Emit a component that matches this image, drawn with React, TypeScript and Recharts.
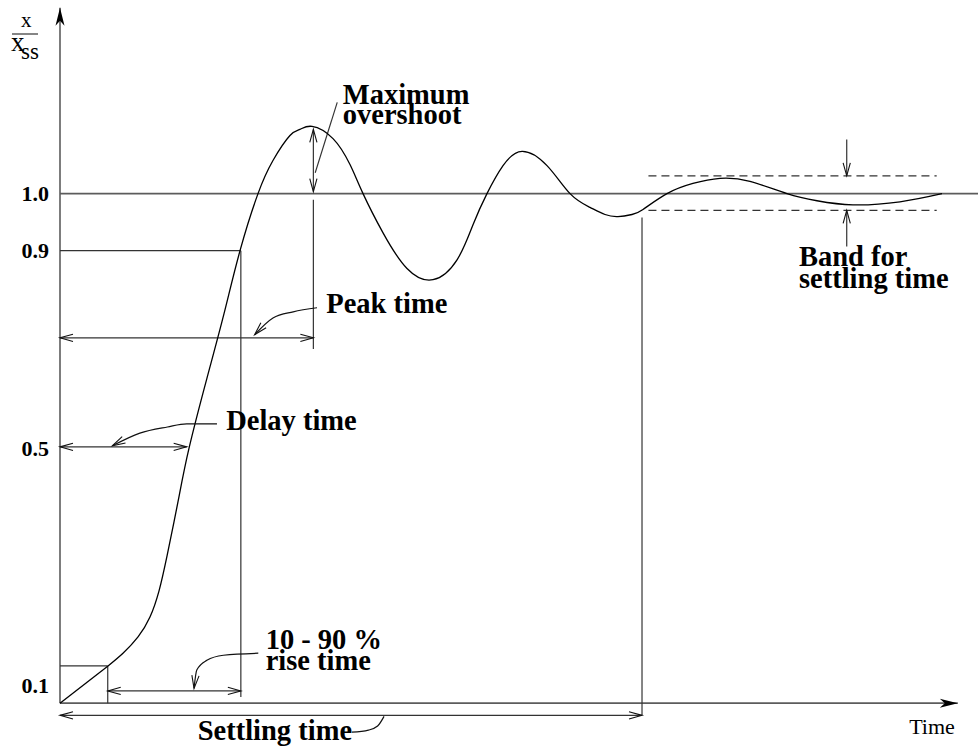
import { ComposedChart, Line, ReferenceDot, ReferenceLine, XAxis, YAxis } from "recharts";

// Schematic step response. Time runs 0..10, the response is x / x_ss (1.0 = steady state).
// The figure is not drawn to scale, so the tick labels sit where the original puts them.

const startT = [0, 0.523];
const startV = [0, 0.073];

const curveT = [0.523, 0.686, 0.85, 0.98, 1.078, 1.166, 1.285, 1.405, 1.601, 1.786, 1.961, 2.157, 2.32, 2.505, 2.614, 2.745, 2.974, 3.159, 3.301, 3.519, 3.78, 4.063, 4.325, 4.499, 4.651, 4.826, 5.033, 5.305, 5.556, 5.773, 5.937, 6.078, 6.231, 6.351, 6.612, 6.895, 7.19, 7.516, 7.919, 8.246, 8.638, 9.15, 9.608];
const curveV = [0.073, 0.098, 0.13, 0.169, 0.22, 0.289, 0.395, 0.5, 0.638, 0.764, 0.888, 1.0, 1.065, 1.114, 1.126, 1.132, 1.108, 1.057, 1.0, 0.923, 0.853, 0.831, 0.87, 0.939, 1.0, 1.055, 1.083, 1.055, 1.0, 0.973, 0.959, 0.955, 0.959, 0.969, 1.0, 1.02, 1.03, 1.024, 1.0, 0.986, 0.978, 0.984, 1.0];

const yTicks = [0.035, 0.5, 0.888, 1.0];
const yTickLabels = ["0.1", "0.5", "0.9", "1.0"];

// segments: [t1, v1, t2, v2]
const axisX = [0, 0, 9.78, 0];
const axisY = [0, 0, 0, 1.365];
const steadyLine = [0, 1, 10, 1];
const guides = [
  [0, 0.888, 1.97, 0.888],
  [1.97, 0.888, 1.97, 0.012],
  [0, 0.073, 0.52, 0.073],
  [0.52, 0.073, 0.52, 0],
  [2.76, 0.988, 2.76, 0.695],
  [6.34, 0.953, 6.34, -0.024],
  [3.02, 1.179, 2.78, 1.041],
];
const intervals = [
  [0, 0.503, 1.38, 0.503], // delay time
  [0, 0.717, 2.76, 0.717], // peak time
  [0.52, 0.024, 1.97, 0.024], // rise time
  [0, -0.024, 6.34, -0.024], // settling time
  [2.76, 1.126, 2.76, 1.004], // maximum overshoot
];
const bandLines = [
  [6.41, 1.035, 9.55, 1.035],
  [6.41, 0.967, 9.55, 0.967],
];
const bandArrows = [
  [8.57, 1.106, 8.57, 1.035],
  [8.57, 0.896, 8.57, 0.967],
];

const delayLeaderT = [0.57, 0.87, 1.17, 1.38, 1.71];
const delayLeaderV = [0.505, 0.53, 0.542, 0.548, 0.548];
const peakLeaderT = [2.12, 2.32, 2.54, 2.8];
const peakLeaderV = [0.723, 0.756, 0.768, 0.776];
const riseLeaderT = [1.46, 1.49, 1.6, 1.78, 2.16];
const riseLeaderV = [0.029, 0.065, 0.084, 0.094, 0.098];
const settleLeaderT = [3.18, 3.36, 3.46, 3.53];
const settleLeaderV = [-0.057, -0.053, -0.045, -0.026];

const notes = [
  { t: 3.08, v: 1.175, lines: ["Maximum", "overshoot"], gap: 20 },
  { t: 2.9, v: 0.766, lines: ["Peak time"], gap: 21 },
  { t: 1.81, v: 0.536, lines: ["Delay time"], gap: 21 },
  { t: 2.24, v: 0.106, lines: ["10 - 90 %", "rise time"], gap: 21 },
  { t: 1.5, v: -0.073, lines: ["Settling time"], gap: 21 },
  { t: 8.05, v: 0.857, lines: ["Band for", "settling time"], gap: 22 },
];
const timeLabel = { t: 9.25, v: -0.061, text: "Time" };

const serif = '"Liberation Serif", "Times New Roman", serif';
const ink = "#111";
const grey = "#5c5c5c";

const toData = (ts: number[], vs: number[]) => ts.map((t, i) => ({ t, v: vs[i] }));
const seg = (s: number[]) => [
  { x: s[0], y: s[1] },
  { x: s[2], y: s[3] },
];

function NoteLabel(props: any) {
  const { viewBox, lines, size = 28.5, lineGap = 21, weight = "bold" } = props;
  if (!viewBox) return null;
  return (
    <text x={viewBox.x} y={viewBox.y} fontFamily={serif} fontSize={size} fontWeight={weight} fill="#000">
      {lines.map((s: string, i: number) => (
        <tspan key={i} x={viewBox.x} dy={i === 0 ? 0 : lineGap}>
          {s}
        </tspan>
      ))}
    </text>
  );
}

function RatioLabel(props: any) {
  const vb = props.viewBox || { x: 0, y: 0 };
  const x0 = vb.x;
  const y0 = vb.y;
  return (
    <g fontFamily={serif} fill="#000">
      <text x={x0 + 21} y={y0 + 27} fontSize={21}>x</text>
      <line x1={x0 + 12} y1={y0 + 34} x2={x0 + 38} y2={y0 + 34} stroke={grey} strokeWidth={1.5} />
      <text x={x0 + 11} y={y0 + 51} fontSize={27}>x</text>
      <text x={x0 + 21} y={y0 + 59} fontSize={23}>ss</text>
    </g>
  );
}

const segLine = (marker: { start?: string; end?: string }, color: string, width: number, dash?: string) =>
  (p: any) => (
    <line
      x1={p.x1}
      y1={p.y1}
      x2={p.x2}
      y2={p.y2}
      stroke={color}
      strokeWidth={width}
      strokeDasharray={dash}
      markerStart={marker.start}
      markerEnd={marker.end}
    />
  );

export default function App() {
  return (
    <div style={{ position: "absolute", left: 0, top: 0, width: 978, height: 749, background: "#fff" }}>
      <ComposedChart width={978} height={749} margin={{ top: 0, right: 0, bottom: 0, left: 0 }}>
        <defs>
          <marker
            id="openHead"
            viewBox="-15 -6 16 12"
            refX={0}
            refY={0}
            markerWidth={16}
            markerHeight={12}
            markerUnits="userSpaceOnUse"
            orient="auto-start-reverse"
            overflow="visible"
          >
            <path d="M-13,-3.6 L0,0 L-13,3.6" fill="none" stroke={ink} strokeWidth={1.1} />
          </marker>
          <marker
            id="solidHead"
            viewBox="-20 -6 21 12"
            refX={0}
            refY={0}
            markerWidth={21}
            markerHeight={12}
            markerUnits="userSpaceOnUse"
            orient="auto-start-reverse"
            overflow="visible"
          >
            <path d="M-18,-4.5 L0,0 L-18,4.5 L-13,0 Z" fill="#000" />
          </marker>
        </defs>
        <XAxis type="number" dataKey="t" domain={[0, 10]} hide />
        <YAxis
          type="number"
          dataKey="v"
          domain={[-0.09, 1.38]}
          ticks={yTicks}
          tickFormatter={(_v: number, i: number) => yTickLabels[i]}
          width={60}
          axisLine={false}
          tickLine={false}
          tickMargin={5}
          tick={{ fill: "#000", fontSize: 22, fontWeight: "bold", fontFamily: serif }}
          label={<RatioLabel />}
        />

        <ReferenceLine segment={seg(axisX)} shape={segLine({ end: "url(#solidHead)" }, grey, 1.6)} />
        <ReferenceLine segment={seg(axisY)} shape={segLine({ end: "url(#solidHead)" }, grey, 1.6)} />
        <ReferenceLine segment={seg(steadyLine)} shape={segLine({}, grey, 1.6)} />
        {guides.map((s, i) => (
          <ReferenceLine key={`g${i}`} segment={seg(s)} shape={segLine({}, "#333", 1.2)} />
        ))}
        {intervals.map((s, i) => (
          <ReferenceLine
            key={`iv${i}`}
            segment={seg(s)}
            shape={segLine({ start: "url(#openHead)", end: "url(#openHead)" }, "#333", 1.2)}
          />
        ))}
        {bandLines.map((s, i) => (
          <ReferenceLine key={`b${i}`} segment={seg(s)} shape={segLine({}, "#333", 1.2, "8 5")} />
        ))}
        {bandArrows.map((s, i) => (
          <ReferenceLine key={`ba${i}`} segment={seg(s)} shape={segLine({ end: "url(#openHead)" }, "#333", 1.2)} />
        ))}

        <Line data={toData(startT, startV)} dataKey="v" type="linear" stroke="#000" strokeWidth={1.3} dot={false} isAnimationActive={false} />
        <Line
          data={toData(curveT, curveV)}
          dataKey="v"
          type="natural"
          stroke="#000"
          strokeWidth={1.3}
          dot={false}
          isAnimationActive={false}
        />
        <Line data={toData(delayLeaderT, delayLeaderV)} dataKey="v" type="monotone" stroke={ink} strokeWidth={1.2} dot={false} markerStart="url(#openHead)" isAnimationActive={false} />
        <Line data={toData(peakLeaderT, peakLeaderV)} dataKey="v" type="monotone" stroke={ink} strokeWidth={1.2} dot={false} markerStart="url(#openHead)" isAnimationActive={false} />
        <Line data={toData(riseLeaderT, riseLeaderV)} dataKey="v" type="monotone" stroke={ink} strokeWidth={1.2} dot={false} markerStart="url(#openHead)" isAnimationActive={false} />
        <Line data={toData(settleLeaderT, settleLeaderV)} dataKey="v" type="monotone" stroke={ink} strokeWidth={1.2} dot={false} isAnimationActive={false} />

        {notes.map((n, i) => (
          <ReferenceDot
            key={`n${i}`}
            x={n.t}
            y={n.v}
            r={0}
            fill="none"
            stroke="none"
            label={<NoteLabel lines={n.lines} lineGap={n.gap} />}
          />
        ))}
        <ReferenceDot
          x={timeLabel.t}
          y={timeLabel.v}
          r={0}
          fill="none"
          stroke="none"
          label={<NoteLabel lines={[timeLabel.text]} size={22} weight="normal" />}
        />
      </ComposedChart>
    </div>
  );
}
